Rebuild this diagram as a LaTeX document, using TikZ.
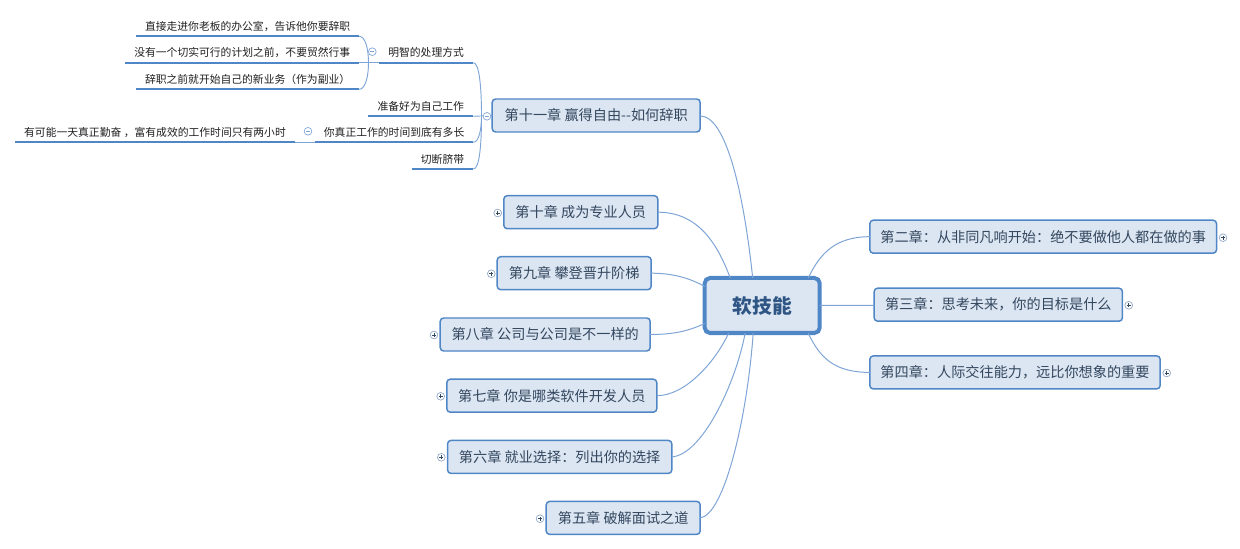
\documentclass[tikz,border=0pt]{standalone}
\usepackage{fontspec}
\newfontfamily\cjk{Noto Sans CJK SC}
\definecolor{boxfill}{HTML}{DCE6F2}
\definecolor{boxline}{HTML}{4F86C6}
\definecolor{linkline}{HTML}{7FA5D6}
\definecolor{boxtext}{HTML}{33475F}
\definecolor{roottext}{HTML}{2F5585}
\definecolor{knob}{HTML}{8FA6C8}
\tikzset{
  chapter/.style={draw=boxline,fill=boxfill,line width=1.1pt,rounded corners=2.6pt,inner sep=0pt,outer sep=0pt,
    minimum height=33*0.75pt,text=boxtext,font=\cjk\fontsize{10.62}{12}\selectfont},
  rootbox/.style={draw=boxline,fill=boxfill,line width=3pt,rounded corners=4pt,inner sep=0pt,outer sep=0pt,
    text=roottext,font=\cjk\bfseries\fontsize{14.8}{18}\selectfont},
  topic/.style={inner sep=0pt,outer sep=0pt,minimum height=20*0.75pt,text=black!88,font=\cjk\fontsize{8.1}{10}\selectfont},
  rule/.style={draw=boxline,line width=1.3pt},
  link/.style={draw=linkline,line width=0.75pt},
  sublink/.style={draw=linkline,line width=0.7pt},
  knobbase/.style={circle,draw=knob,fill=white,line width=0.5pt,minimum size=5.8pt,inner sep=0pt,outer sep=0pt},
  plusknob/.style={knobbase,path picture={
    \draw[boxtext,line width=0.5pt] ([xshift=-1.6pt]path picture bounding box.center) -- ([xshift=1.6pt]path picture bounding box.center);
    \draw[boxtext,line width=0.5pt] ([yshift=-1.6pt]path picture bounding box.center) -- ([yshift=1.6pt]path picture bounding box.center);}},
  minusknob/.style={knobbase,draw=linkline,path picture={
    \draw[linkline,line width=0.5pt] ([xshift=-1.6pt]path picture bounding box.center) -- ([xshift=1.6pt]path picture bounding box.center);}},
}
\begin{document}
\begin{tikzpicture}[x=0.75pt,y=-0.75pt]
\useasboundingbox (0,0) rectangle (1240,549);
% central topic
\node[rootbox,minimum width=115*0.75pt,minimum height=55*0.75pt] (root) at (762.2,305.5) {软技能};
% chapters
\node[chapter,minimum width=208*0.75pt] (c11) at (596.2,115.5) {第十一章 赢得自由--如何辞职};
\node[chapter,minimum width=154*0.75pt] (c10) at (580.8,212.2) {第十章 成为专业人员};
\node[chapter,minimum width=154*0.75pt] (c9) at (574.2,273.2) {第九章 攀登晋升阶梯};
\node[chapter,minimum width=210*0.75pt] (c8) at (545.2,334.5) {第八章 公司与公司是不一样的};
\node[chapter,minimum width=210*0.75pt] (c7) at (551.8,395.7) {第七章 你是哪类软件开发人员};
\node[chapter,minimum width=224.3*0.75pt] (c6) at (559.7,456.9) {第六章 就业选择：列出你的选择};
\node[chapter,minimum width=154*0.75pt] (c5) at (623.2,517.9) {第五章 破解面试之道};
\node[chapter,minimum width=346.7*0.75pt] (c2) at (1043.2,236.7) {第二章：从非同凡响开始：绝不要做他人都在做的事};
\node[chapter,minimum width=248.3*0.75pt] (c3) at (998.3,304.7) {第三章：思考未来，你的目标是什么};
\node[chapter,minimum width=290.4*0.75pt] (c4) at (1015,372.4) {第四章：人际交往能力，远比你想象的重要};
% subtopics
\node[topic,minimum width=223.3*0.75pt] (t1) at (247.6,26.3) {直接走进你老板的办公室，告诉他你要辞职};
\node[topic,minimum width=234*0.75pt] (t2) at (242.3,52.7) {没有一个切实可行的计划之前，不要贸然行事};
\node[topic,minimum width=223.3*0.75pt] (t3) at (247.6,79.3) {辞职之前就开始自己的新业务（作为副业）};
\node[topic,minimum width=94.3*0.75pt] (a1) at (426.1,52.7) {明智的处理方式};
\node[topic,minimum width=105*0.75pt] (a2) at (420.8,106.3) {准备好为自己工作};
\node[topic,minimum width=158.3*0.75pt] (a3) at (394.1,132.3) {你真正工作的时间到底有多长};
\node[topic,minimum width=280*0.75pt] (b1) at (155,132.3) {有可能一天真正勤奋 ，富有成效的工作时间只有两小时};
\node[topic,minimum width=61.6*0.75pt] (a4) at (442.5,159) {切断脐带};
% underlines
\foreach \n in {t1,t2,t3,a1,a2,a3,b1,a4}
  \draw[rule] (\n.south west) -- (\n.south east);
% junctions
\coordinate (ja) at (481.5,116.3);
\coordinate (jt) at (368.5,62.7);
% root links
\draw[link] ([shift={(-9.5,0)}]root.north) .. controls +(-9,-85) and +(26,0) .. ([shift={(0,0.5)}]c11.east);
\draw[link] ([shift={(-32,0)}]root.north) .. controls +(-14,-38) and +(38,0) .. (c10.east);
\draw[link] ([shift={(0,-19)}]root.west) .. controls +(-16,-9) and +(20,0) .. (c9.east);
\draw[link] ([shift={(0,18)}]root.west) .. controls +(-17,8) and +(22,0) .. (c8.east);
\draw[link] ([shift={(-33.5,0)}]root.south) .. controls +(-14,30) and +(28,0) .. (c7.east);
\draw[link] ([shift={(-17,0)}]root.south) .. controls +(-10,52) and +(30,-2) .. (c6.east);
\draw[link] ([shift={(-9,0)}]root.south) .. controls +(-6,85) and +(24,-3) .. (c5.east);
\draw[link] ([shift={(46,0)}]root.north) .. controls +(12,-25) and +(-34,0) .. (c2.west);
\draw[link] (root.east) -- ([shift={(0,0.8)}]c3.west);
\draw[link] ([shift={(46,0)}]root.south) .. controls +(12,26) and +(-34,0) .. (c4.west);
% subtopic links
\draw[sublink] (c11.west) -- (a2.south east);
\draw[sublink] (a1.south east) .. controls +(6,0) and +(0,-30) .. (ja);
\draw[sublink] (a3.south east) .. controls +(6,0) and +(0,12) .. (ja);
\draw[sublink] (a4.south east) .. controls +(6,0) and +(0,30) .. (ja);
\draw[sublink] (t2.south east) -- (a1.south west);
\draw[sublink] (t1.south east) .. controls +(6,0) and +(0,-14) .. (jt);
\draw[sublink] (t3.south east) .. controls +(6,0) and +(0,14) .. (jt);
\draw[sublink] (b1.south east) -- (a3.south west);
% collapse marks
\node[minusknob] (m0) at (487,116.3) {};
\node[minusknob] (m1) at (372.3,51.7) {};
\node[minusknob] (m2) at (308,131.3) {};
\node[plusknob] (p10) at (497.7,213) {};
\node[plusknob] (p9) at (491.3,273.7) {};
\node[plusknob] (p8) at (434,335) {};
\node[plusknob] (p7) at (440.7,396.3) {};
\node[plusknob] (p6) at (441.3,457.3) {};
\node[plusknob] (p5) at (540,518.7) {};
\node[plusknob] (p2) at (1223,237.7) {};
\node[plusknob] (p3) at (1128.7,305.3) {};
\node[plusknob] (p4) at (1166.7,373) {};
\end{tikzpicture}
\end{document}
